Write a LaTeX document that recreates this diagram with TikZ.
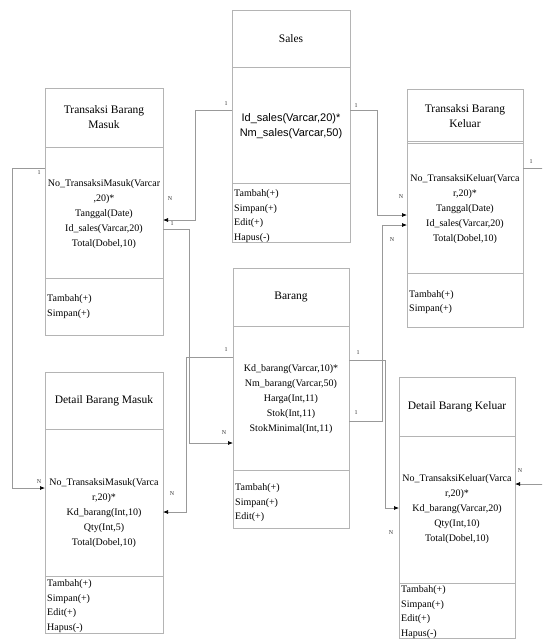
\documentclass[tikz,border=0pt]{standalone}
\usepackage{fontspec}
\setmainfont{Liberation Serif}
\newfontfamily\salesfont{Liberation Sans}
\usetikzlibrary{arrows.meta}
\definecolor{boxColor}{HTML}{B4B4B4}
\definecolor{relColor}{HTML}{999999}
\tikzset{
	comp/.style={draw=boxColor, line width=0.7pt, inner sep=0, outer sep=0},
	title/.style={align=center, font=\fontsize{11.5}{15}\selectfont},
	attr/.style={align=center, inner sep=0, font=\fontsize{10}{15}\selectfont},
	meth/.style={anchor=base west, inner sep=0, font=\fontsize{10}{14.5}\selectfont},
	rel/.style={draw=relColor, line width=0.7pt, -{Latex[length=5pt,width=4pt,color=black]}},
	card/.style={inner sep=0, text=black!80, font=\fontsize{6}{7}\selectfont}
}
\newcommand{\methods}[1]{\begin{tabular}[t]{@{}l@{}}#1\end{tabular}}

\begin{document}
\begin{tikzpicture}[x=1pt, y=-1pt]
	\useasboundingbox (0,0) rectangle (542,640);
	% Sales
	\node[comp, title, minimum width=118, minimum height=57] (sales) at (291, 38.5) {Sales};
	\node[comp, minimum width=118, minimum height=116] (sales_a) at (291, 125) {};
	\node[attr, font=\salesfont\fontsize{11}{15}\selectfont] (sales_at) at (291, 126) {Id\_sales(Varcar,20)*\\Nm\_sales(Varcar,50)};
	\node[comp, minimum width=118, minimum height=59] (sales_m) at (291, 212.5) {};
	\node[meth] (sales_mt) at (234, 196.5) {\methods{Tambah(+)\\Simpan(+)\\Edit(+)\\Hapus(-)}};
	% Transaksi Barang Masuk
	\node[comp, title, minimum width=118, minimum height=59] (tbm) at (104, 117.5) {Transaksi Barang\\Masuk};
	\node[comp, minimum width=118, minimum height=131] (tbm_a) at (104, 212.5) {};
	\node[attr] (tbm_at) at (104, 214) {No\_TransaksiMasuk(Varcar\\,20)*\\Tanggal(Date)\\Id\_sales(Varcar,20)\\Total(Dobel,10)};
	\node[comp, minimum width=118, minimum height=57] (tbm_m) at (104, 306.5) {};
	\node[meth] (tbm_mt) at (47, 301.5) {\methods{Tambah(+)\\Simpan(+)}};
	% Transaksi Barang Keluar
	\node[comp, title, minimum width=116, minimum height=54] (tbk) at (465, 116) {Transaksi Barang\\Keluar};
	\node[comp, minimum width=116, minimum height=132] (tbk_a) at (465, 207) {};
	\node[attr] (tbk_at) at (465, 209) {No\_TransaksiKeluar(Varca\\r,20)*\\Tanggal(Date)\\Id\_sales(Varcar,20)\\Total(Dobel,10)};
	\node[comp, minimum width=116, minimum height=54] (tbk_m) at (465, 300) {};
	\node[meth] (tbk_mt) at (409, 297) {\methods{Tambah(+)\\Simpan(+)}};
	% Barang
	\node[comp, title, minimum width=116, minimum height=58] (barang) at (291, 297) {Barang};
	\node[comp, minimum width=116, minimum height=144] (barang_a) at (291, 398) {};
	\node[attr] (barang_at) at (291, 399) {Kd\_barang(Varcar,10)*\\Nm\_barang(Varcar,50)\\Harga(Int,11)\\Stok(Int,11)\\StokMinimal(Int,11)};
	\node[comp, minimum width=116, minimum height=58] (barang_m) at (291, 499) {};
	\node[meth] (barang_mt) at (235, 490.5) {\methods{Tambah(+)\\Simpan(+)\\Edit(+)}};
	% Detail Barang Masuk
	\node[comp, title, minimum width=118, minimum height=57] (dbm) at (104, 400.5) {Detail Barang Masuk};
	\node[comp, minimum width=118, minimum height=147] (dbm_a) at (104, 502.5) {};
	\node[attr] (dbm_at) at (104, 513) {No\_TransaksiMasuk(Varca\\r,20)*\\Kd\_barang(Int,10)\\Qty(Int,5)\\Total(Dobel,10)};
	\node[comp, minimum width=118, minimum height=57] (dbm_m) at (104, 604.5) {};
	\node[meth] (dbm_mt) at (47, 586.5) {\methods{Tambah(+)\\Simpan(+)\\Edit(+)\\Hapus(-)}};
	% Detail Barang Keluar
	\node[comp, title, minimum width=116, minimum height=59] (dbk) at (457, 406.5) {Detail Barang Keluar};
	\node[comp, minimum width=116, minimum height=147] (dbk_a) at (457, 509.5) {};
	\node[attr] (dbk_at) at (457, 509) {No\_TransaksiKeluar(Varca\\r,20)*\\Kd\_barang(Varcar,20)\\Qty(Int,10)\\Total(Dobel,10)};
	\node[comp, minimum width=116, minimum height=55] (dbk_m) at (457, 610.5) {};
	\node[meth] (dbk_mt) at (401, 592.5) {\methods{Tambah(+)\\Simpan(+)\\Edit(+)\\Hapus(-)}};

	\begin{scope}
		\clip (0,0) rectangle (542,640);
		\draw[rel] (sales_a.west |- 0,110) -- ++(-37,0) |- (tbm_a.east |- 0,220);
		\draw[rel] (tbm_a.east |- 0,229) -- ++(26,0) |- (barang_a.west |- 0,443);
		\draw[rel] (barang_a.west |- 0,357) -- ++(-47,0) |- (dbm_a.east |- 0,512);
		\draw[rel] (tbm_a.west |- 0,168) -- ++(-33,0) |- (dbm_a.west |- 0,488);
		\draw[rel] (sales_a.east |- 0,110) -- ++(27,0) |- (tbk_a.west |- 0,215);
		\draw[rel] (barang_a.east |- 0,421) -- ++(33,0) |- (tbk_a.west |- 0,225);
		\draw[rel] (barang_a.east |- 0,360) -- ++(36,0) |- (dbk_a.west |- 0,508);
		\draw[rel] (tbk_a.east |- 0,168) -- ++(25,0) |- (dbk_a.east |- 0,484);
	\end{scope}
	% cardinalities
	\node[card] (k1a) at (226,104) {1};
	\node[card] (k1b) at (170,199) {N};
	\node[card] (k2a) at (172,224) {1};
	\node[card] (k2b) at (224,433) {N};
	\node[card] (k3a) at (226,350) {1};
	\node[card] (k3b) at (172,494) {N};
	\node[card] (k4a) at (39,173) {1};
	\node[card] (k4b) at (39,482) {N};
	\node[card] (k5a) at (356,106) {1};
	\node[card] (k5b) at (401,197) {N};
	\node[card] (k6a) at (356,413) {1};
	\node[card] (k6b) at (392,240) {N};
	\node[card] (k7a) at (358,353) {1};
	\node[card] (k7b) at (391,533) {N};
	\node[card] (k8a) at (531,162) {1};
	\node[card] (k8b) at (520,471) {N};
\end{tikzpicture}
\end{document}
